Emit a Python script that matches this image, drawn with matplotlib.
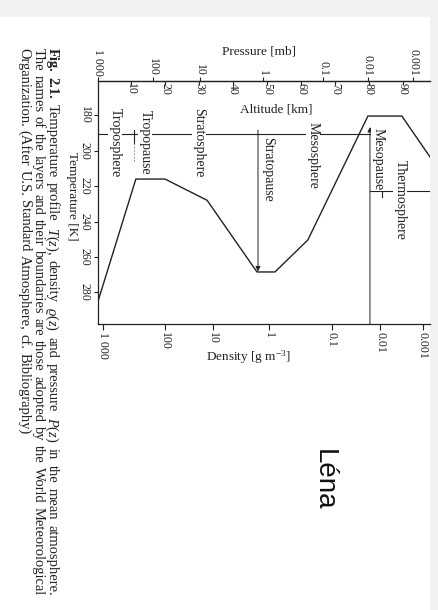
import matplotlib
matplotlib.use("Agg")
import matplotlib.pyplot as plt
from matplotlib.patches import Rectangle

plt.rcParams["font.family"] = ["Liberation Serif", "DejaVu Serif"]
plt.rcParams["mathtext.fontset"] = "custom"
plt.rcParams["mathtext.rm"] = "Liberation Serif"
plt.rcParams["mathtext.it"] = "Liberation Serif:italic"
plt.rcParams["mathtext.bf"] = "Liberation Serif:bold"

W, H = 438, 610
ink = "#222222"

# temperature profile (altitude km, temperature K)
alt_km = [0, 11.3, 19.9, 32.3, 47.0, 52.3, 62.0, 79.7, 89.7, 98.0]
temp_k = [286, 216, 216, 228, 268.5, 268.5, 250.4, 180.4, 180.4, 203.5]

temp_ticks = [180, 200, 220, 240, 260, 280]
alt_ticks = [10, 20, 30, 40, 50, 60, 70, 80, 90]

# pressure and density scales are printed at these altitudes
pressure_labels = ["1 000", "100", "10", "1", "0.1", "0.01", "0.001"]
pressure_km = [0.2, 16.4, 30.2, 48.7, 66.5, 79.7, 93.0]
density_labels = ["1 000", "100", "10", "1", "0.1", "0.01", "0.001"]
density_km = [1.6, 19.9, 34.0, 50.5, 69.1, 83.3, 95.9]

# boundaries (km)
tropopause_km = 10.8
stratopause_km = 47.3
mesopause_km = 80.3

layer_names = ["Troposphere", "Tropopause", "Stratosphere", "Stratopause",
               "Mesosphere", "Mesopause", "Thermosphere"]

caption = [
    "Fig. 2.1. Temperature profile $T(z)$, density $\\varrho(z)$ and pressure $P(z)$ in the mean atmosphere.",
    "The names of the layers and their boundaries are those adopted by the World Meteorological",
    "Organization. (After U.S. Standard Atmosphere, cf. Bibliography)",
]


def px(x, y):
    # pixel position of the scan -> figure fraction
    return x / W, 1 - y / H


fig = plt.figure(figsize=(W / 100, H / 100), dpi=100, facecolor="#f2f2f2")
fig.add_artist(Rectangle((0, 0), 430 / W, 1 - 17 / H, transform=fig.transFigure,
                         facecolor="white", edgecolor="none", zorder=-10))

x0, x1, y0, y1 = 97.5, 430, 81, 324
ax = fig.add_axes([x0 / W, 1 - y1 / H, (x1 - x0) / W, (y1 - y0) / H])
ax.set_facecolor("none")
ax.set_xlim(0, 98.0)
ax.set_ylim(297.9, 160.6)
for side in ["top", "bottom", "left"]:
    ax.spines[side].set_color(ink)
    ax.spines[side].set_linewidth(0.9)
ax.spines["right"].set_visible(False)

ax.plot(alt_km, temp_k, color=ink, lw=1.0, zorder=4)

# temperature axis (left)
ax.set_yticks(temp_ticks, [str(t) for t in temp_ticks])
ax.tick_params(axis="y", direction="out", length=3, pad=2, labelsize=8.5, color=ink, labelcolor=ink)
plt.setp(ax.get_yticklabels(), rotation=270, va="center")

# density axis (bottom)
ax.set_xticks(density_km, density_labels)
ax.tick_params(axis="x", direction="out", length=4, pad=2, labelsize=8.5, color=ink, labelcolor=ink)
plt.setp(ax.get_xticklabels(), rotation=270, ha="center", va="top")

# pressure axis (top, outside)
sec = ax.secondary_xaxis("top")
sec.set_xticks(pressure_km, pressure_labels)
sec.tick_params(direction="out", length=3, pad=1, labelsize=8.5, color=ink, labelcolor=ink)
sec.spines["top"].set_color(ink)
plt.setp(sec.get_xticklabels(), rotation=270, ha="center", va="bottom")

# altitude axis (top, inside)
sec2 = ax.secondary_xaxis("top")
sec2.set_xticks(alt_ticks, ["" for _ in alt_ticks])
sec2.tick_params(direction="in", length=3, color=ink)
sec2.spines["top"].set_color(ink)
for z in alt_ticks:
    ax.annotate(str(z), (z, 1), xycoords=("data", "axes fraction"), xytext=(0, -1.5),
                textcoords="offset points", rotation=270, ha="center", va="top",
                fontsize=8.5, color=ink)

# layer bar and boundaries
bar_k = 190.6
ax.plot([0, mesopause_km], [bar_k, bar_k], color=ink, lw=0.8, zorder=2)
ax.plot([tropopause_km] * 2, [188.3, 195.6], color=ink, lw=0.8, zorder=2)
ax.plot([tropopause_km] * 2, [195.6, 207], color="#777777", lw=0.6, ls=(0, (2, 2)), zorder=2)
arrow = dict(arrowstyle="-|>", color=ink, lw=0.7, mutation_scale=7, shrinkA=0, shrinkB=0)
ax.annotate("", xy=(stratopause_km, 268.2), xytext=(stratopause_km, 188.4), arrowprops=arrow)
ax.annotate("", xy=(mesopause_km, 186.6), xytext=(mesopause_km, 297.9), arrowprops=arrow)
ax.plot([mesopause_km, 98], [222.8, 222.8], color=ink, lw=0.8, zorder=2)
ax.plot([83.8, 83.8], [218.8, 226.2], color=ink, lw=0.8, zorder=2)

layer_pos = [(5.2, 175.9), (14.0, 177.0), (29.9, 175.9), (50.0, 192.3),
             (63.5, 183.8), (82.7, 187.2), (89.2, 205.3)]
for name, (z, t) in zip(layer_names, layer_pos):
    ax.text(z, t, name, rotation=270, rotation_mode="anchor", ha="left", va="center",
            fontsize=10, color=ink, zorder=3,
            bbox=dict(facecolor="white", edgecolor="none", pad=0.6))

# axis titles
fig.text(*px(259, 51), "Pressure [mb]", ha="center", va="center", fontsize=9.5, color=ink)
fig.text(*px(276, 110), "Altitude [km]", ha="center", va="center", fontsize=9.5, color=ink)
fig.text(*px(248, 357), "Density [g m$^{-3}$]", ha="center", va="center", fontsize=9.5, color=ink)
fig.text(*px(72, 196), "Temperature [K]", ha="center", va="center", rotation=270,
         fontsize=9.5, color=ink)

# caption, set word by word so the first two lines are justified
renderer = fig.canvas.get_renderer()


def word_width(s, size, weight):
    t = fig.text(0, 0, s, fontsize=size, fontweight=weight)
    w = t.get_window_extent(renderer).width
    t.remove()
    return w


def split_words(line):
    words = line.split(" ")
    out = []
    for i, w in enumerate(words):
        bold = line.startswith("Fig.") and i < 2
        out.append((w, "bold" if bold else "normal"))
    return out


line_len = 548
start_y = 47.5
base_x = [48.5, 34.5, 20.5]
lines = [split_words(s) for s in caption]

probe = 10
nat = sum(word_width(w, probe, wt) for w, wt in lines[0])
space = word_width("x x", probe, "normal") - word_width("xx", probe, "normal")
nat += space * (len(lines[0]) - 1)
cap_size = probe * line_len / nat * 0.96
space *= cap_size / probe

for i, words in enumerate(lines):
    widths = [word_width(w, cap_size, wt) for w, wt in words]
    if i < 2:
        gap = (line_len - sum(widths)) / (len(words) - 1)
    else:
        gap = space * 1.1
    y = start_y
    for (w, wt), ww in zip(words, widths):
        fig.text(*px(base_x[i], y), w, rotation=270, rotation_mode="anchor",
                 ha="left", va="baseline", fontsize=cap_size, fontweight=wt, color=ink)
        y += ww + gap

fig.text(*px(317, 449), "Léna", rotation=270, rotation_mode="anchor", ha="left",
         va="baseline", fontsize=20, family="Liberation Sans", color="#111111")

fig.savefig("out.png", dpi=100, facecolor=fig.get_facecolor())
